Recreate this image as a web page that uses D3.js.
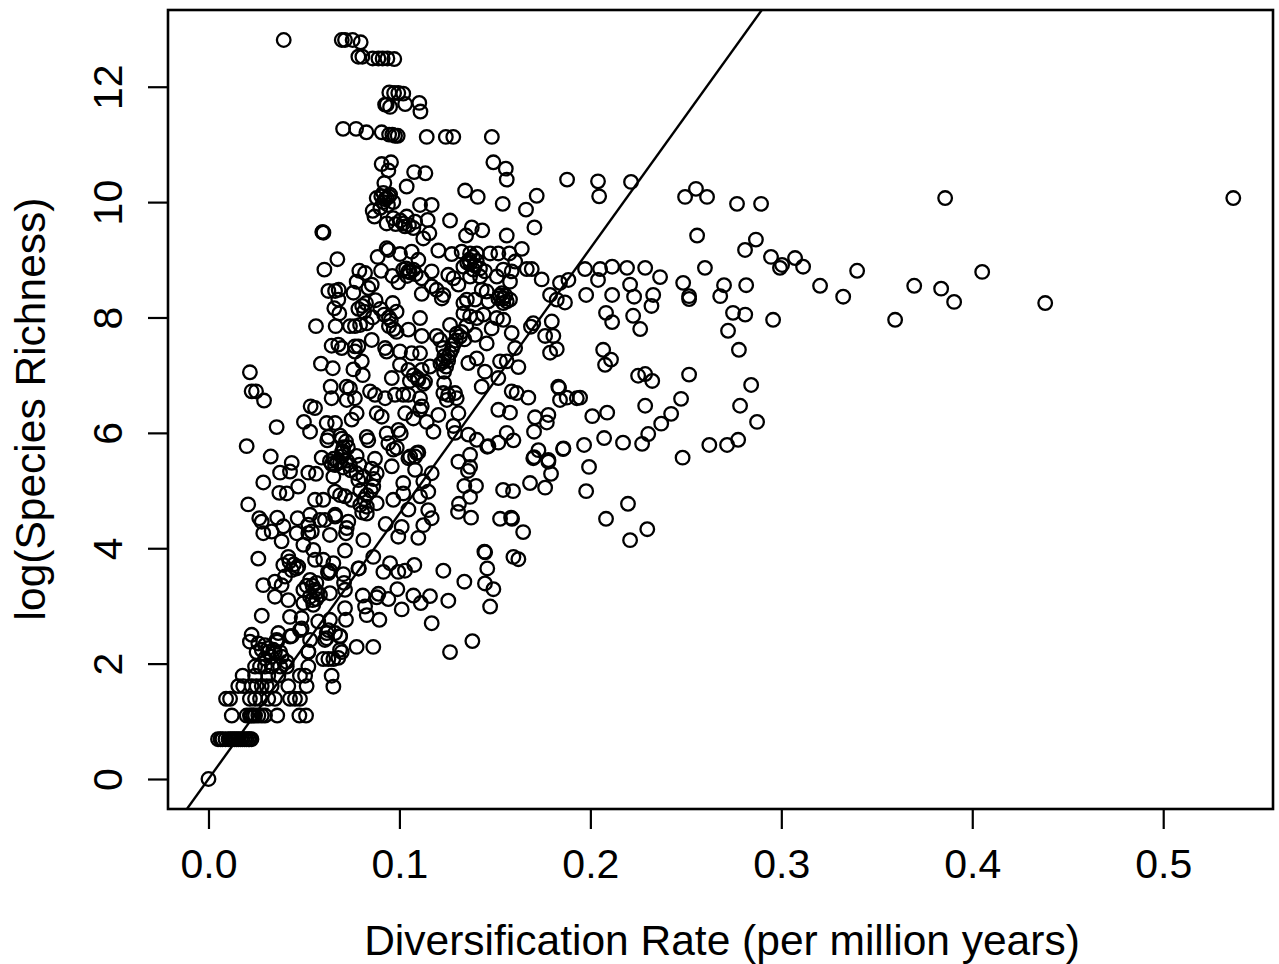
<!DOCTYPE html>
<html>
<head>
<meta charset="utf-8">
<script src="https://cdnjs.cloudflare.com/ajax/libs/d3/7.8.5/d3.min.js"></script>
<style>
  html, body { margin: 0; padding: 0; background: #fff; }
  text { font-family: "Liberation Sans", Arial, sans-serif; fill: #000; }
</style>
</head>
<body>
<svg id="chart" width="1279" height="964"></svg>
<script>
// Values: [diversification rate, log(species richness)]
var topRows = [
  [.0394,12.81],[.0698,12.81],[.0715,12.81],[.0755,12.81],[.0797,12.77],
  [.0785,12.52],[.0806,12.52],[.086,12.49],[.089,12.49],[.0912,12.49],[.0937,12.49],[.0973,12.48],
  [.0947,11.9],[.0972,11.89],[.0994,11.89],[.102,11.88],
  [.0933,11.69],[.0925,11.69],[.0951,11.65],[.103,11.7],[.1104,11.72],[.111,11.57],
  [.0705,11.27],[.0773,11.27],[.0827,11.21],[.0907,11.21],[.0946,11.17],[.0963,11.17],[.0977,11.15],[.0991,11.15],
  [.1143,11.13],[.1243,11.13],[.1282,11.13],[.1484,11.13],
  [.0907,10.66],[.0956,10.69],[.0942,10.55],[.1077,10.52],[.1136,10.5],
  [.1492,10.69],[.1557,10.58],[.1562,10.39],[.1878,10.39],
  [.0921,10.33],[.1038,10.27],[.0881,10.07],[.0916,10.16],[.0951,10.13],[.0968,10],[.0916,10],[.0934,10.07],
  [.1344,10.2],[.141,10.09],[.1719,10.11],[.1541,9.97],[.1663,9.87]
];

var upperCore = [
  [.086,9.85],[.0869,9.75],[.0933,9.63],[.0968,9.72],[.102,9.63],[.1038,9.75],[.1082,9.66],[.1073,9.55],[.1029,9.58],
  [.1108,9.95],[.1169,9.95],[.1148,9.69],[.1265,9.68],[.1379,9.56],[.1434,9.51],[.1349,9.42],[.1562,9.42],[.1707,9.56],
  [.1125,9.37],[.1157,9.46],[.0596,9.48],[.0599,9.48],[.0602,9.47],[.0675,9.01],[.0607,8.83],
  [.0628,8.46],[.0663,8.46],[.0682,8.48],[.068,8.31],[.0659,8.16],[.0685,8.07],[.0563,7.85],
  [.0666,7.85],[.0741,7.85],[.0767,7.85],[.0794,7.87],[.0829,7.9],
  [.079,8.81],[.082,8.77],[.0776,8.62],[.0855,8.57],[.0837,8.51],[.0759,8.43],
  [.0886,9.05],[.0933,9.2],[.0942,9.17],[.1003,9.1],[.1064,9.14],[.1099,9],[.0904,8.81],[.0963,8.72],[.0994,8.61],
  [.1047,8.8],[.102,8.83],[.1073,8.83],[.1117,8.68],[.1169,8.8],
  [.1204,9.16],[.1274,9.1],[.1326,9.14],[.137,9.11],[.1405,9.11],[.1475,9.11],[.1518,9.11],[.1576,9.11],[.1641,9.19],
  [.137,8.94],[.1387,8.83],[.1422,8.85],[.1448,8.8],[.137,8.71],[.1422,8.71],[.1335,8.88],
  [.1256,8.74],[.1283,8.68],[.1309,8.57],[.123,8.39],[.1117,8.41],[.1222,8.33],[.1195,8.48],[.1169,8.54],
  [.151,8.71],[.1544,8.83],[.1588,8.8],[.1606,8.97],[.1579,8.62],[.1693,8.84],[.1745,8.66],[.1841,8.6],[.1885,8.65],
  [.1789,8.39],[.1824,8.31],[.1867,8.26],[.1667,8.84],
  [.1536,8.42],[.1544,8.33],[.1562,8.28],[.1518,8.33],[.1579,8.31],[.1544,8.25],
  [.1335,8.25],[.1353,8.31],[.1396,8.31],[.1466,8.28],[.1457,8.45],[.1431,8.48]
];

var middleCore = [
  [.1335,8.07],[.137,8.02],[.1405,7.99],[.144,8.05],[.151,7.99],[.1544,7.96],[.1483,7.81],[.1396,7.7],[.1588,7.73],[.1606,7.47],[.1457,7.55],
  [.1689,7.84],[.1701,7.9],[.1798,7.93],[.1763,7.68],[.1806,7.68],[.1824,7.45],[.1789,7.39],
  [.1108,7.99],[.1047,7.79],[.1117,7.68],[.1265,7.87],[.1195,7.68],[.1213,7.61],[.1317,7.67],[.1283,7.53],[.123,7.47],[.1256,7.32],[.123,7.24],
  [.0855,7.61],[.0925,7.47],[.0933,7.41],
  [.0645,7.51],[.068,7.53],[.0698,7.47],[.0767,7.5],[.0785,7.5],[.0767,7.41],[.1003,7.41],[.1064,7.38],[.1108,7.38],[.0803,7.24],[.1003,7.18],[.1047,7.09],
  [.0589,7.2],[.0651,7.12],[.0759,7.1],[.0808,7],[.096,6.95],[.1099,6.92],[.1117,7.09],[.116,7.15],[.1134,6.89],[.1234,7.06],[.1234,6.86],
  [.1361,7.21],[.1405,7.29],[.1448,7.06],[.1431,6.8],[.1518,6.95],[.1527,7.24],[.1562,7.24],[.1623,7.14],
  [.064,6.8],[.0645,6.6],[.0724,6.8],[.0741,6.77],[.0724,6.57],[.0767,6.6],[.0846,6.72],[.0872,6.66],[.0925,6.6],[.0977,6.66],[.102,6.66],[.1047,6.66],
  [.1108,6.6],[.1117,6.46],[.1108,6.4],[.123,6.69],[.1256,6.66],[.1291,6.69],[.13,6.6],[.1248,6.57],
  [.1309,6.34],[.1178,6.02],[.1204,6.31],[.1143,6.19],[.1073,6.25],[.103,6.34],[.0881,6.34],[.0907,6.28],[.0776,6.34],[.075,6.23],
  [.1283,6.12],[.1291,6],[.1361,5.97],[.1405,5.88],[.1466,5.77],[.1518,5.83],[.1562,6],[.1597,5.87],
  [.1518,6.4],[.1579,6.35],[.1588,6.72],[.1614,6.69],[.1675,6.61],[.171,6.27],[.178,6.31],[.1772,6.18],[.1705,6.02],
  [.1832,6.8],[.1841,6.57],[.1876,6.61],[.1929,6.6],[.1859,5.73],[.1728,5.7],[.1701,5.56],[.178,5.53],
  [.1309,5.5],[.137,5.62],[.137,5.41],[.05,6.19],[.0532,6.02],[.0357,6.1],[.02,5.77],[.0326,5.59],[.0436,5.48],
  [.0535,6.46],[.0558,6.43],[.0217,7.05],[.0226,6.72],[.0249,6.72],[.0291,6.56],
  [.0619,6.17],[.0663,6.17],[.0628,5.93],[.0622,5.87],[.0698,5.9],[.0706,5.75],[.0698,5.66],[.0593,5.57],[.0636,5.51],[.0645,5.46],[.0689,5.49],
  [.0829,5.93],[.0837,5.87],[.0776,5.6],[.0872,5.55],[.0933,5.99],[.1007,5.99],[.0942,5.82],[.0968,5.71],[.0986,5.74],[.1082,5.59],[.1099,5.66],[.1056,5.59]
];

var lowerCore = [
  [.0375,5.31],[.0427,5.33],[.0523,5.31],[.0563,5.29],[.0287,5.14],[.047,5.07],[.0371,4.96],[.041,4.95],[.0208,4.76],
  [.0266,4.52],[.0279,4.46],[.0287,4.26],[.0331,4.29],[.036,4.53],[.0392,4.38],[.0467,4.52],[.0462,4.26],[.0497,4.06],[.0383,4.12],[.0261,3.82],
  [.0532,4.58],[.0523,4.41],[.0523,4.26],[.0541,4.29],[.0636,4.23],[.0584,4.49],[.061,4.49],[.0663,4.55],[.0732,4.46],[.0724,4.35],[.072,4.26],
  [.0558,4.84],[.0601,4.84],[.0663,4.98],[.0689,4.92],[.0715,4.9],[.075,4.84],[.0829,4.92],[.0881,4.78],[.0829,4.72],[.0829,4.6],[.0663,4.58],
  [.0663,5.44],[.0698,5.59],[.0741,5.44],[.0811,5.24],[.0785,5.18],[.0654,5.24],[.0881,5.3],[.0863,5.07],[.096,5.42],[.1047,5.56],[.1091,5.65],[.1082,5.36],
  [.102,5.13],[.1125,5.16],[.1169,5.3],[.102,4.95],[.0968,4.84],[.1047,4.67],[.1151,4.66],[.1108,4.9],[.1151,4.98],[.1169,4.52],[.1125,4.4],[.1012,4.37],
  [.0994,4.2],[.1099,4.18],[.0928,4.42],[.0811,4.14],[.0715,3.96],[.0863,3.85],[.0785,3.65],[.0788,3.65],[.0951,3.74],[.0916,3.59],[.0994,3.59],[.1029,3.61],[.1078,3.71],
  [.123,3.61],[.134,3.42],[.1445,3.94],[.1449,3.93],[.146,3.65],[.1448,3.39],[.1492,3.29],[.1475,2.99],[.1597,3.85],[.1623,3.81],[.1382,2.39],[.1265,2.2],
  [.1169,2.7],[.1256,3.09],[.116,3.17],[.1073,3.18],[.1112,3.05],[.1012,2.94],[.0989,3.29],[.0942,3.12],[.089,3.21],[.0881,3.15],[.0808,3.18],[.082,2.99],[.0829,2.84],[.0895,2.76],
  [.0776,2.29],[.0863,2.29],[.071,3.4],[.0715,2.96],[.072,2.76],[.0689,2.48],
  [.0418,3.85],[.0392,3.71],[.0436,3.62],[.047,3.68],[.0401,3.51],[.0287,3.36],[.0348,3.42],[.0348,3.16],[.0383,3.36],[.0418,3.1],[.0427,2.81],[.0279,2.83],
  [.0488,2.79],[.0488,2.61],[.0436,2.48],[.0549,3.97],[.0558,3.8],[.0601,3.8],[.0654,3.74],[.0628,3.57],[.0706,3.55],[.0532,3.45],[.0558,3.28],[.0532,3.16],
  [.0584,3.19],[.0497,3.28],[.0636,3.22],[.0715,3.28],[.0549,3.02],[.0497,3.05],[.0575,2.73],[.0636,2.76],[.0628,2.58],[.0619,2.44],[.0663,2.53],[.0689,2.24],[.0523,2.21],[.0532,2.41],
  [.0626,3.59],[.0637,3.61],[.0424,3.77],[.0447,3.72],[.0462,3.65],[.0545,3.35],[.057,3.24],[.0565,3.12]
];

var lowTail = [
  [0,0],[.005,.69],[.0063,.69],[.0073,.69],[.0089,.69],[.0105,.69],[.0115,.69],[.0126,.69],[.0136,.69],[.0147,.69],[.0157,.69],[.0168,.69],[.0178,.69],[.0189,.69],[.0199,.69],[.021,.69],[.0215,.69],[.0225,.69],
  [.0122,1.1],[.02,1.1],[.0217,1.1],[.0225,1.1],[.0235,1.1],[.0244,1.1],[.0261,1.1],[.0279,1.1],[.0296,1.1],[.036,1.1],[.0476,1.1],[.0511,1.1],
  [.0092,1.39],[.0113,1.39],[.0217,1.39],[.0244,1.39],[.027,1.39],[.0313,1.39],[.0348,1.39],[.0427,1.39],[.0453,1.39],[.0479,1.39],
  [.0156,1.61],[.0182,1.61],[.0226,1.61],[.0252,1.61],[.0279,1.61],[.0305,1.61],[.0331,1.61],[.0418,1.61],[.0514,1.61],[.0654,1.6],
  [.0179,1.79],[.0244,1.79],[.0313,1.79],[.0366,1.79],[.0479,1.79],[.0506,1.79],[.0645,1.79],
  [.0244,1.95],[.027,1.95],[.0296,1.95],[.0331,1.95],[.0375,1.95],[.041,1.95],[.0523,1.95],[.0601,2.08],[.0628,2.08],[.0654,2.08],[.068,2.1],
  [.0252,2.2],[.0313,2.2],[.0348,2.2],[.0375,2.2],[.0523,2.2],[.0698,2.2],
  [.0217,2.38],[.0261,2.35],[.0296,2.32],[.0357,2.41],[.0366,2.53],[.036,2.38],[.0226,2.5],[.0427,2.47],[.0479,2.58],[.061,2.41],[.0689,2.47],[.0619,2.53],
  [.0313,2.27],[.034,2.24],[.0279,2.24],[.0383,2.12],[.041,2.03],[.0331,2.12],[.0296,2.09]
];

var rightSpread = [
  [.204,10.36],[.2046,10.1],[.2213,10.35],[.2496,10.09],[.2553,10.23],[.2611,10.09],[.2768,9.97],[.2894,9.97],
  [.2559,9.42],[.26,8.86],[.281,9.17],[.2867,9.35],[.2946,9.05],[.2993,8.86],[.3004,8.91],[.3072,9.03],[.3114,8.88],[.3203,8.55],[.3324,8.36],[.3397,8.81],
  [.3596,7.96],[.3696,8.55],[.3837,8.5],[.3858,10.07],[.3905,8.27],[.4052,8.79],[.4382,8.25],[.5367,10.07],
  [.2486,8.6],[.2517,8.37],[.2517,8.32],[.268,8.37],[.27,8.56],[.2747,8.08],[.2721,7.77],[.2816,8.56],[.2811,8.05],[.2957,7.96],[.2778,7.44],
  [.2051,8.84],[.2114,8.88],[.2192,8.86],[.2287,8.86],[.2365,8.7],[.2329,8.39],[.2208,8.57],[.2229,8.36],[.1978,8.39],[.204,8.65],[.2114,8.39],[.2082,8.08],
  [.2114,7.92],[.2224,8.03],[.2261,7.8],[.232,8.2],[.1972,8.84],[.2067,7.44],[.2077,7.18],[.2108,7.27],
  [.225,6.99],[.2287,7.02],[.2324,6.9],[.2517,7.01],[.2842,6.83],[.2784,6.47],[.2873,6.19],[.2475,6.59],[.2287,6.47],[.2423,6.33],[.2371,6.16],[.2303,5.98],
  [.2271,5.81],[.2483,5.57],[.2623,5.79],[.2716,5.79],[.2774,5.88],[.2171,5.83],[.2072,5.91],[.201,6.29],[.2088,6.35],[.1946,6.61],[.1836,6.78],
  [.1967,5.79],[.1857,5.72],[.1993,5.41],[.1978,4.99],[.2082,4.51],[.2197,4.77],[.2208,4.14],[.2298,4.33],
  [.1763,5.05],[.1794,5.29],[.178,5.5],[.1684,5.13],[.1705,5.58],[.1543,5.01],[.1595,4.99],[.1585,4.53],[.159,4.51],[.1527,4.51],[.1648,4.28],
  [.1375,4.53],[.1307,4.63],[.1401,5.08],[.134,5.08],[.1312,4.77],[.1359,5.34],[.137,4.89],[.146,5.76]
];

// Overlapping marks in the crowded clusters, estimated from the crops
var crowdedClusters = [
  [.0925,10.05],[.0905,10.1],[.094,9.95],[.09,9.9],[.0945,10.1],[.098,9.62],[.1005,9.68],[.105,9.6],
  [.1365,9],[.1385,9.05],[.1405,8.98],[.1355,8.95],[.1395,8.9],
  [.1035,8.85],[.1055,8.78],[.104,8.72],[.1085,8.75],[.1525,8.38],[.1555,8.38],
  [.1235,7.33],[.1255,7.25],[.1265,7.38],[.1215,7.2],[.1245,7.15],[.1275,7.45],[.1295,7.6],
  [.1325,7.75],[.135,7.85],[.13,7.72],[.134,7.62],
  [.0805,8.2],[.0825,8.25],[.0785,8.15],[.0815,8.1],[.086,8],[.0875,8.3],[.09,8.15],[.092,8.05],[.0945,8],[.0965,8.25],[.0985,8.1],
  [.0945,7.85],[.0955,7.95],[.097,7.8],[.0985,7.75],
  [.1075,7],[.1095,6.95],[.1055,6.9],[.1125,6.85],
  [.0655,5.55],[.0675,5.5],[.0705,5.4],[.0725,5.52],[.0745,5.35],[.0775,5.3],[.079,5.45],
  [.0795,5],[.0815,4.85],[.0795,4.75],[.0805,4.62],[.0855,5.38],[.0865,5.2],[.085,5],
  [.069,5.95],[.072,5.85],[.0705,5.68],[.073,5.75],[.0995,6.05],
  [.0515,3.35],[.0545,3.1],[.0565,3.4]
];

var xTickValues = [0, 0.1, 0.2, 0.3, 0.4, 0.5];
var yTickValues = [0, 2, 4, 6, 8, 10, 12];
var xTitle = "Diversification Rate (per million years)";
var yTitle = "log(Species Richness)";
var lineSlope = 46;

var points = topRows.concat(upperCore, middleCore, lowerCore, lowTail, rightSpread, crowdedClusters);

// Plot box
var plot = {left: 168, right: 1273, top: 10, bottom: 809};

var x = d3.scaleLinear().domain([-0.0212, 0.5575]).range([plot.left, plot.right]);
var y = d3.scaleLinear().domain([-0.52, 13.33]).range([plot.bottom, plot.top]);

var svg = d3.select("#chart");

svg.append("defs").append("clipPath").attr("id", "plot-clip")
    .append("rect")
    .attr("x", plot.left).attr("y", plot.top)
    .attr("width", plot.right - plot.left).attr("height", plot.bottom - plot.top);

// Points
svg.append("g").selectAll("circle")
    .data(points)
    .enter().append("circle")
    .attr("cx", function(d) { return x(d[0]); })
    .attr("cy", function(d) { return y(d[1]); })
    .attr("r", 6.8)
    .attr("fill", "none")
    .attr("stroke", "#000")
    .attr("stroke-width", 2.3);

// Fitted line through the origin
var line = d3.line()
    .x(function(d) { return x(d); })
    .y(function(d) { return y(d * lineSlope); });

svg.append("path")
    .datum(x.domain())
    .attr("d", line)
    .attr("clip-path", "url(#plot-clip)")
    .attr("fill", "none")
    .attr("stroke", "#000")
    .attr("stroke-width", 2.4);

// Box
svg.append("rect")
    .attr("x", plot.left).attr("y", plot.top)
    .attr("width", plot.right - plot.left).attr("height", plot.bottom - plot.top)
    .attr("fill", "none")
    .attr("stroke", "#000")
    .attr("stroke-width", 2.6);

// Axes
var xAxis = d3.axisBottom(x)
    .tickValues(xTickValues)
    .tickFormat(d3.format(".1f"))
    .tickSize(20)
    .tickPadding(15);

var yAxis = d3.axisLeft(y)
    .tickValues(yTickValues)
    .tickSize(20)
    .tickPadding(0);

var gx = svg.append("g")
    .attr("transform", "translate(0," + plot.bottom + ")")
    .call(xAxis);

var gy = svg.append("g")
    .attr("transform", "translate(" + plot.left + ",0)")
    .call(yAxis);

gx.select(".domain").remove();
gy.select(".domain").remove();
svg.selectAll(".tick line").attr("stroke", "#000").attr("stroke-width", 2.2);

gx.selectAll(".tick text")
    .attr("y", null).attr("dy", null)
    .attr("transform", "translate(0,69)")
    .style("font-size", "41px")
    .attr("text-anchor", "middle");

gy.selectAll(".tick text")
    .attr("x", null).attr("dy", null)
    .attr("transform", "translate(-46,0) rotate(-90)")
    .style("font-size", "41px")
    .attr("text-anchor", "middle");

// Titles
svg.append("text")
    .attr("x", 722).attr("y", 955)
    .attr("text-anchor", "middle")
    .style("font-size", "42.5px")
    .text(xTitle);

svg.append("text")
    .attr("transform", "translate(45,409) rotate(-90)")
    .attr("text-anchor", "middle")
    .style("font-size", "42.5px")
    .text(yTitle);
</script>
</body>
</html>
